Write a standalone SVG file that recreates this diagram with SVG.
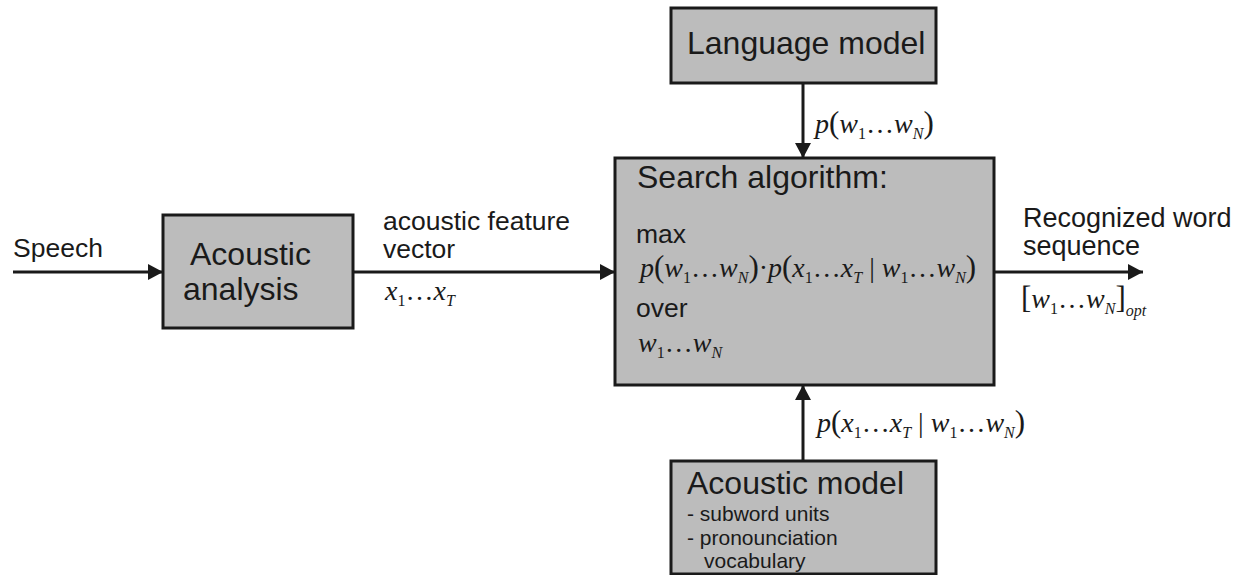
<svg xmlns="http://www.w3.org/2000/svg" width="1239" height="575" viewBox="0 0 1239 575">
<style>
.box{fill:#bcbcbc;stroke:#1a1a1a;stroke-width:3}
.big{font-family:"Liberation Sans",Arial,sans-serif;font-size:32px;fill:#1a1a1a}
.lbl{font-family:"Liberation Sans",Arial,sans-serif;font-size:26.5px;fill:#1a1a1a}
.sm{font-family:"Liberation Sans",Arial,sans-serif;font-size:21px;fill:#1a1a1a}
.m{font-family:"Liberation Serif","Times New Roman",serif;font-size:28px;font-style:italic;fill:#1a1a1a}
.u{font-style:normal}
.s{font-size:16px}
.p{font-style:normal;font-size:31px}
.cn{stroke:#1a1a1a;stroke-width:3;fill:none}
</style>
<defs>
<marker id="ah" markerUnits="userSpaceOnUse" markerWidth="16" markerHeight="16" refX="15" refY="8" orient="auto">
<path d="M0,0 L15,8 L0,16 z" fill="#1a1a1a"/>
</marker>
</defs>
<rect width="1239" height="575" fill="#ffffff"/>
<g id="connectors">
<line class="cn" x1="13" y1="272" x2="163" y2="272" marker-end="url(#ah)"/>
<line class="cn" x1="353" y1="272" x2="615" y2="272" marker-end="url(#ah)"/>
<line class="cn" x1="994" y1="272" x2="1143" y2="272" marker-end="url(#ah)"/>
<line class="cn" x1="803" y1="83" x2="803" y2="158" marker-end="url(#ah)"/>
<line class="cn" x1="803" y1="461" x2="803" y2="385" marker-end="url(#ah)"/>
<text class="lbl" x="13" y="257">Speech</text>
<text class="lbl" x="383" y="230">acoustic feature</text>
<text class="lbl" x="383" y="258">vector</text>
<text class="m" x="385" y="300">x<tspan class="s u" dy="6">1</tspan><tspan class="u" dy="-6">…</tspan>x<tspan class="s" dy="6">T</tspan></text>
<text class="lbl" x="1023" y="227" style="font-size:27px">Recognized word</text>
<text class="lbl" x="1023" y="255" style="font-size:27px">sequence</text>
<text class="m" x="1021" y="308"><tspan class="p">[</tspan>w<tspan class="s u" dy="6">1</tspan><tspan class="u" dy="-6">…</tspan>w<tspan class="s" dy="6">N</tspan><tspan class="p" dy="-6">]</tspan><tspan class="s" dy="8">opt</tspan></text>
<text class="m" x="815" y="133">p<tspan class="p">(</tspan>w<tspan class="s u" dy="6">1</tspan><tspan class="u" dy="-6">…</tspan>w<tspan class="s" dy="6">N</tspan><tspan class="p" dy="-6">)</tspan></text>
<text class="m" x="817" y="432">p<tspan class="p">(</tspan>x<tspan class="s u" dy="6">1</tspan><tspan class="u" dy="-6">…</tspan>x<tspan class="s" dy="6">T</tspan><tspan class="u" dy="-6"> | </tspan>w<tspan class="s u" dy="6">1</tspan><tspan class="u" dy="-6">…</tspan>w<tspan class="s" dy="6">N</tspan><tspan class="p" dy="-6">)</tspan></text>
</g>
<g id="language-model">
<rect class="box" x="671" y="8" width="265" height="75"/>
<text class="big" x="687" y="54">Language model</text>
</g>
<g id="search-algorithm">
<rect class="box" x="615" y="158" width="379" height="227"/>
<text class="big" x="637" y="188">Search algorithm:</text>
<text class="lbl" x="636" y="243">max</text>
<text class="m" x="640" y="277">p<tspan class="p">(</tspan>w<tspan class="s u" dy="6">1</tspan><tspan class="u" dy="-6">…</tspan>w<tspan class="s" dy="6">N</tspan><tspan class="p" dy="-6">)</tspan><tspan class="u">·</tspan>p<tspan class="p">(</tspan>x<tspan class="s u" dy="6">1</tspan><tspan class="u" dy="-6">…</tspan>x<tspan class="s" dy="6">T</tspan><tspan class="u" dy="-6"> | </tspan>w<tspan class="s u" dy="6">1</tspan><tspan class="u" dy="-6">…</tspan>w<tspan class="s" dy="6">N</tspan><tspan class="p" dy="-6">)</tspan></text>
<text class="lbl" x="636" y="317">over</text>
<text class="m" x="638" y="352">w<tspan class="s u" dy="6">1</tspan><tspan class="u" dy="-6">…</tspan>w<tspan class="s" dy="6">N</tspan></text>
</g>
<g id="acoustic-analysis">
<rect class="box" x="163" y="215" width="190" height="113"/>
<text class="big" x="190" y="265">Acoustic</text>
<text class="big" x="183" y="300">analysis</text>
</g>
<g id="acoustic-model">
<rect class="box" x="671" y="461" width="265" height="113"/>
<text class="big" x="687" y="494">Acoustic model</text>
<text class="sm" x="687" y="521">- subword units</text>
<text class="sm" x="687" y="545">- pronounciation</text>
<text class="sm" x="704" y="568">vocabulary</text>
</g>
</svg>
